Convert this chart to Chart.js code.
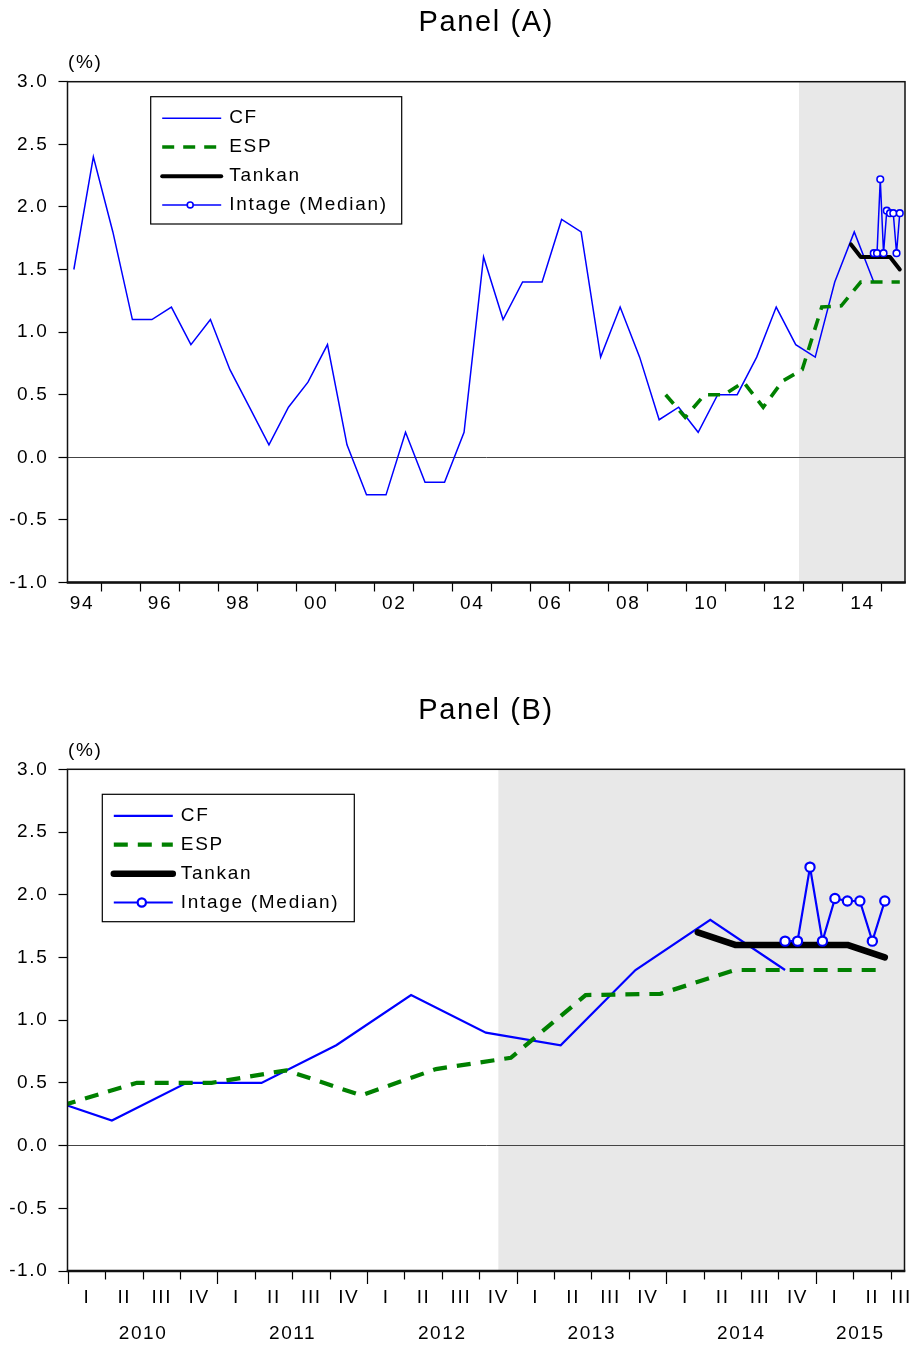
<!DOCTYPE html>
<html>
<head>
<meta charset="utf-8">
<title>Inflation expectations</title>
<script src="https://cdn.jsdelivr.net/npm/chart.js@4.4.1/dist/chart.umd.min.js"></script>
<style>
  html, body { margin: 0; padding: 0; background: #fff; }
  body { width: 913px; height: 1349px; position: relative; overflow: hidden; }
  canvas { position: absolute; left: 0; }
  #panelA { top: 0; }
  #panelB { top: 688px; }
</style>
</head>
<body>
<canvas id="panelA" width="913" height="660"></canvas>
<canvas id="panelB" width="913" height="661"></canvas>
<script>
// ---- Series (%), dated by survey month ----
const cfMonths = [
  '1994-04','1994-10','1995-04','1995-10','1996-04','1996-10','1997-04','1997-10',
  '1998-04','1998-10','1999-04','1999-10','2000-04','2000-10','2001-04','2001-10',
  '2002-04','2002-10','2003-04','2003-10','2004-04','2004-10','2005-04','2005-10',
  '2006-04','2006-10','2007-04','2007-10','2008-04','2008-10','2009-04','2009-10',
  '2010-04','2010-10','2011-04','2011-10','2012-04','2012-10','2013-04','2013-10',
  '2014-04','2014-10'
];
const cfValues = [
  1.5, 2.4, 1.8, 1.1, 1.1, 1.2, 0.9, 1.1,
  0.7, 0.4, 0.1, 0.4, 0.6, 0.9, 0.1, -0.3,
  -0.3, 0.2, -0.2, -0.2, 0.2, 1.6, 1.1, 1.4,
  1.4, 1.9, 1.8, 0.8, 1.2, 0.8, 0.3, 0.4,
  0.2, 0.5, 0.5, 0.8, 1.2, 0.9, 0.8, 1.4,
  1.8, 1.4
];

const espMonths = [
  '2009-06','2009-12','2010-06','2010-12','2011-06','2011-12','2012-06',
  '2012-12','2013-06','2013-12','2014-06','2014-12','2015-06'
];
const espValues = [0.5, 0.32, 0.5, 0.5, 0.6, 0.4, 0.61, 0.7, 1.2, 1.21, 1.4, 1.4, 1.4];

const tankanMonths = ['2014-03','2014-06','2014-09','2014-12','2015-03','2015-06'];
const tankanValues = [1.7, 1.6, 1.6, 1.6, 1.6, 1.5];

const intageMonths = [
  '2014-10','2014-11','2014-12','2015-01','2015-02','2015-03','2015-04','2015-05','2015-06'
];
const intageValues = [1.63, 1.63, 2.22, 1.63, 1.97, 1.95, 1.95, 1.63, 1.95];

const seriesLabels = ['CF', 'ESP', 'Tankan', 'Intage (Median)'];
const yTickValues = [-1.0, -0.5, 0.0, 0.5, 1.0, 1.5, 2.0, 2.5, 3.0];
const quarterLabels = ['I', 'II', 'III', 'IV'];
const shadeFromMonth = '2012-11';
const unitLabel = '(%)';

// ---- helpers ----
const FONT = '"Liberation Sans", Arial, Helvetica, sans-serif';
Chart.defaults.font.family = FONT;
Chart.defaults.font.size = 19;
Chart.defaults.color = '#000';

// middle of a month as a decimal year
function monthPos(s) {
  const p = s.split('-');
  return Number(p[0]) + (Number(p[1]) - 0.5) / 12;
}
function toPoints(months, values) {
  return months.map((m, i) => ({ x: monthPos(m), y: values[i] }));
}
const keyOf = v => Number(v).toFixed(4);

// yearly tick marks, two-digit labels on even years centred in the year
function yearTicks(min, max) {
  const t = [];
  for (let y = Math.ceil(min); y <= max; y++) t.push({ value: y, label: '', mark: true, long: true });
  for (let y = Math.floor(min); y <= max; y++) {
    const mid = y + 0.5;
    if (mid > min && mid < max) t.push({ value: mid, label: y % 2 === 0 ? String(y).slice(2) : '', mark: false });
  }
  return t.sort((a, b) => a.value - b.value);
}
// quarterly tick marks (longer at year starts), roman numerals centred in each quarter
function quarterTicks(min, max) {
  const t = [];
  for (let y = Math.ceil(min - 0.01); y <= max; y++) {
    for (let q = 0; q < 4; q++) {
      const start = y + q / 4;
      if (start > max) continue;
      t.push({ value: start, label: '', mark: true, long: q === 0 });
      const mid = Math.min(start + 0.125, max - 0.02);
      t.push({ value: mid, label: quarterLabels[q], mark: false });
    }
  }
  return t.sort((a, b) => a.value - b.value);
}
// year labels centred over the visible part of each year
function yearLabelTicks(min, max) {
  const t = [];
  for (let y = Math.ceil(min - 0.01); y <= max; y++) {
    const a = Math.max(y, min), b = Math.min(y + 1, max);
    t.push({ value: (a + b) / 2, label: String(y), mark: false });
  }
  return t;
}

// ---- drawing plugins ----
const shadePlugin = {
  id: 'shade',
  beforeDraw(chart) {
    const ctx = chart.ctx, a = chart.chartArea, x = chart.scales.x;
    ctx.letterSpacing = '1.6px';
    const x0 = Math.max(a.left, x.getPixelForValue(monthPos(shadeFromMonth)));
    ctx.save();
    ctx.fillStyle = 'rgb(232,232,232)';
    ctx.fillRect(x0, a.top, a.right - x0, a.bottom - a.top);
    ctx.restore();
  }
};

const framePlugin = {
  id: 'frame',
  afterDatasetsDraw(chart) {
    const ctx = chart.ctx, a = chart.chartArea;
    ctx.save();
    ctx.strokeStyle = '#111';
    ctx.lineWidth = 1.5;
    ctx.strokeRect(a.left, a.top, a.right - a.left, a.bottom - a.top);
    ctx.lineWidth = 2.5;
    ctx.beginPath();
    ctx.moveTo(a.left - 0.75, a.bottom);
    ctx.lineTo(a.right + 0.75, a.bottom);
    ctx.stroke();
    ctx.restore();
  }
};

const legendRows = [21.5, 50.3, 79.5, 108.2];
const boxLegendPlugin = {
  id: 'boxLegend',
  afterDraw(chart, args, opts) {
    const ctx = chart.ctx, a = chart.chartArea;
    const bx = a.left + opts.dx, by = a.top + opts.dy;
    ctx.save();
    ctx.fillStyle = '#fff';
    ctx.fillRect(bx, by, opts.w, opts.h);
    ctx.lineWidth = 1.2;
    ctx.strokeStyle = '#000';
    ctx.strokeRect(bx, by, opts.w, opts.h);
    const x0 = bx + 11.5, x1 = bx + 70.5, tx = bx + 78.5, mx = bx + 39.5;
    chart.data.datasets.forEach((ds, i) => {
      const y = by + legendRows[i];
      ctx.beginPath();
      ctx.setLineDash(ds.borderDash || []);
      ctx.lineCap = ds.borderCapStyle || 'butt';
      ctx.lineWidth = ds.borderWidth;
      ctx.strokeStyle = ds.borderColor;
      ctx.moveTo(x0, y);
      ctx.lineTo(x1, y);
      ctx.stroke();
      if (ds.pointRadius > 0) {
        ctx.setLineDash([]);
        ctx.beginPath();
        ctx.arc(mx, y, ds.pointRadius * 0.9, 0, Math.PI * 2);
        ctx.fillStyle = '#fff';
        ctx.fill();
        ctx.lineWidth = ds.pointBorderWidth;
        ctx.strokeStyle = ds.pointBorderColor;
        ctx.stroke();
      }
      ctx.fillStyle = '#000';
      ctx.font = '19px ' + FONT;
      ctx.letterSpacing = '1.7px';
      ctx.textAlign = 'left';
      ctx.textBaseline = 'middle';
      ctx.fillText(ds.label, tx, y);
    });
    // unit above the value axis
    ctx.letterSpacing = '1.6px';
    ctx.font = '19px ' + FONT;
    ctx.fillStyle = '#000';
    ctx.textAlign = 'left';
    ctx.textBaseline = 'middle';
    ctx.fillText(unitLabel, a.left + 0.5, a.top - 19);
    ctx.restore();
  }
};

// ---- one panel ----
function makePanel(cfg) {
  const s = cfg.style;
  const main = cfg.mainTicks;
  const labelMap = new Map(main.map(t => [keyOf(t.value), t.label]));
  const markSet = new Set(main.filter(t => t.mark).map(t => keyOf(t.value)));
  const longSet = new Set(main.filter(t => t.long).map(t => keyOf(t.value)));

  const scales = {
    x: {
      type: 'linear', position: 'bottom', weight: 0, bounds: 'data',
      min: cfg.xMin, max: cfg.xMax,
      afterBuildTicks: sc => { sc.ticks = main.map(t => ({ value: t.value })); },
      afterFit: sc => { sc.height = cfg.xHeight; sc.paddingLeft = 0; sc.paddingRight = 0; },
      border: { display: false },
      grid: {
        drawOnChartArea: false, drawTicks: true, tickLength: cfg.tickLen,
        lineWidth: 1, tickWidth: 1.2,
        tickColor: c => (c.tick && markSet.has(keyOf(c.tick.value))) ? '#000' : 'rgba(0,0,0,0)',
        tickBorderDash: c => (c.tick && longSet.has(keyOf(c.tick.value))) ? [] : [cfg.shortTick, 100]
      },
      ticks: {
        autoSkip: false, maxRotation: 0, minRotation: 0, padding: cfg.xPad, color: '#000',
        callback: v => labelMap.get(keyOf(v)) || ''
      }
    },
    y: {
      type: 'linear', position: 'left', bounds: 'data', min: -1, max: 3,
      afterBuildTicks: sc => { sc.ticks = yTickValues.map(v => ({ value: v })); },
      afterFit: sc => { sc.width = cfg.left; sc.paddingTop = 0; sc.paddingBottom = 0; },
      border: { display: false },
      grid: {
        drawOnChartArea: true, drawTicks: true, tickLength: 9, lineWidth: 1, tickWidth: 1.2,
        color: c => (c.tick && c.tick.value === 0) ? '#444' : 'rgba(0,0,0,0)',
        tickColor: '#000'
      },
      ticks: { padding: 10.2, color: '#000', callback: v => Number(v).toFixed(1) }
    }
  };

  if (cfg.yearTicks) {
    const yl = cfg.yearTicks;
    const yMap = new Map(yl.map(t => [keyOf(t.value), t.label]));
    scales.x2 = {
      type: 'linear', position: 'bottom', weight: 1, bounds: 'data',
      min: cfg.xMin, max: cfg.xMax,
      afterBuildTicks: sc => { sc.ticks = yl.map(t => ({ value: t.value })); },
      afterFit: sc => { sc.height = cfg.x2Height; sc.paddingLeft = 0; sc.paddingRight = 0; },
      border: { display: false },
      grid: { display: false, drawTicks: false, drawOnChartArea: false },
      ticks: {
        autoSkip: false, maxRotation: 0, minRotation: 0, padding: cfg.x2Pad, color: '#000',
        callback: v => yMap.get(keyOf(v)) || ''
      }
    };
  }

  return new Chart(document.getElementById(cfg.id), {
    type: 'line',
    data: {
      datasets: [
        {
          label: seriesLabels[0], data: toPoints(cfMonths, cfValues), order: 4,
          borderColor: '#0000ff', borderWidth: s.cf, pointRadius: 0, tension: 0, fill: false
        },
        {
          label: seriesLabels[1], data: toPoints(espMonths, espValues), order: 3,
          borderColor: '#008000', borderWidth: s.esp, borderDash: s.espDash,
          pointRadius: 0, tension: 0, fill: false
        },
        {
          label: seriesLabels[2], data: toPoints(tankanMonths, tankanValues), order: 2,
          borderColor: '#000000', borderWidth: s.tankan, borderCapStyle: 'round',
          borderJoinStyle: 'round', pointRadius: 0, tension: 0, fill: false
        },
        {
          label: seriesLabels[3], data: toPoints(intageMonths, intageValues), order: 1,
          borderColor: '#0000ff', borderWidth: s.intage, tension: 0, fill: false,
          pointRadius: s.marker, pointStyle: 'circle', pointBackgroundColor: '#ffffff',
          pointBorderColor: '#0000ff', pointBorderWidth: s.markerBorder
        }
      ]
    },
    options: {
      responsive: false, animation: false, devicePixelRatio: 1,
      events: [],
      layout: { padding: { left: 0, right: 913 - cfg.right, top: 0, bottom: 0 } },
      plugins: {
        legend: { display: false },
        tooltip: { enabled: false },
        title: {
          display: true, text: cfg.title, fullSize: false, color: '#000',
          font: { size: 29, weight: 'normal', family: FONT, lineHeight: 1.2 },
          padding: { top: 5.6, bottom: cfg.top - 5.6 - 34.8 }
        },
        boxLegend: cfg.legend
      },
      scales
    },
    plugins: [shadePlugin, framePlugin, boxLegendPlugin]
  });
}

// Panel (A): long history, yearly axis
const aMin = 1994.129, aMax = 2015.592;
makePanel({
  id: 'panelA', title: 'Panel (A)',
  xMin: aMin, xMax: aMax, left: 67.5, right: 905, top: 81.7,
  xHeight: 660 - 582.5, tickLen: 9, shortTick: 9, xPad: 1.1,
  mainTicks: yearTicks(aMin, aMax),
  legend: { dx: 83.2, dy: 15, w: 251, h: 127.3 },
  style: { cf: 1.5, esp: 3.6, espDash: [12, 9], tankan: 4, intage: 1.5, marker: 3.3, markerBorder: 1.6 }
});

// Panel (B): recent years, quarterly axis
const bMin = 2009.995, bMax = 2015.59;
makePanel({
  id: 'panelB', title: 'Panel (B)',
  xMin: bMin, xMax: bMax, left: 67.5, right: 904.5, top: 81.3,
  xHeight: 38, x2Height: 661 - 583 - 38, tickLen: 13, shortTick: 8.5, xPad: 2.6, x2Pad: 13.6,
  mainTicks: quarterTicks(bMin, bMax),
  yearTicks: yearLabelTicks(bMin, bMax),
  legend: { dx: 34.8, dy: 25, w: 252, h: 127.4 },
  style: { cf: 2.2, esp: 4.2, espDash: [14, 10], tankan: 6.5, intage: 2.2, marker: 4.6, markerBorder: 2.2 }
});
</script>
</body>
</html>
